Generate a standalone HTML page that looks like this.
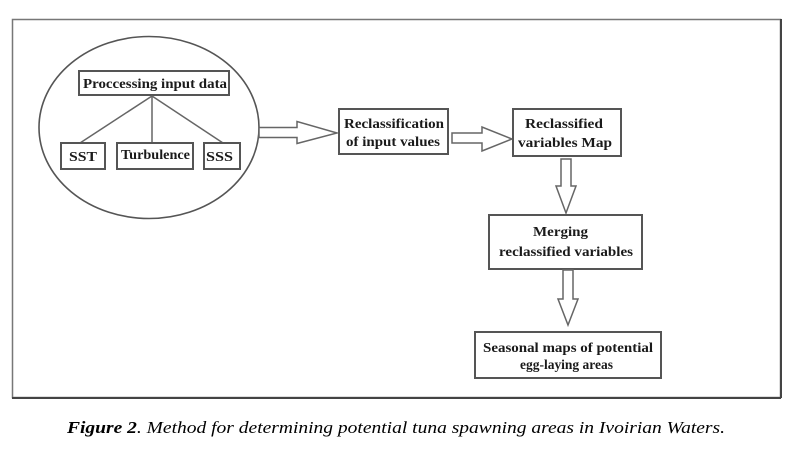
<!DOCTYPE html>
<html>
<head>
<meta charset="utf-8">
<style>
  html,body{margin:0;padding:0;background:#fff;}
  body{width:789px;height:449px;overflow:hidden;}
  svg{display:block;}
  text{font-family:"Liberation Serif","Times New Roman",Times,serif;}
  .b{font-weight:bold;font-size:13.5px;fill:#1a1a1a;}
  .cap{font-style:italic;font-size:17px;fill:#000;}
</style>
</head>
<body>
<svg width="789" height="449" viewBox="0 0 789 449" xmlns="http://www.w3.org/2000/svg" font-family="Liberation Serif, Times New Roman, Times, serif">
  <!-- outer frame -->
  <rect x="12.5" y="19.5" width="768" height="378" fill="none" stroke="#777" stroke-width="1.5"/>
  <line x1="12" y1="398" x2="781" y2="398" stroke="#444" stroke-width="2"/>
  <line x1="781" y1="19" x2="781" y2="398" stroke="#444" stroke-width="2"/>

  <!-- ellipse -->
  <ellipse cx="149" cy="127.5" rx="110" ry="91" fill="none" stroke="#555" stroke-width="1.6"/>

  <!-- processing box -->
  <rect x="79" y="71" width="150" height="24" fill="#fff" stroke="#555" stroke-width="2"/>
  <text class="b" x="83" y="88" textLength="144" lengthAdjust="spacingAndGlyphs">Proccessing input data</text>

  <!-- tree lines -->
  <line x1="152" y1="96" x2="80" y2="143" stroke="#666" stroke-width="1.5"/>
  <line x1="152" y1="96" x2="152" y2="143" stroke="#666" stroke-width="1.5"/>
  <line x1="152" y1="96" x2="223" y2="143" stroke="#666" stroke-width="1.5"/>

  <!-- leaf boxes -->
  <rect x="61" y="143" width="44" height="26" fill="#fff" stroke="#555" stroke-width="2"/>
  <text class="b" x="69" y="161" textLength="28" lengthAdjust="spacingAndGlyphs">SST</text>
  <rect x="117" y="143" width="76" height="26" fill="#fff" stroke="#555" stroke-width="2"/>
  <text class="b" x="121" y="159" textLength="69" lengthAdjust="spacingAndGlyphs">Turbulence</text>
  <rect x="204" y="143" width="36" height="26" fill="#fff" stroke="#555" stroke-width="2"/>
  <text class="b" x="206" y="161" textLength="27" lengthAdjust="spacingAndGlyphs">SSS</text>

  <!-- arrow 1 (right) -->
  <polygon points="259,127.5 297,127.5 297,121.5 337,133 297,143.5 297,137.5 259,137.5" fill="#fff" stroke="#666" stroke-width="1.5" stroke-linejoin="miter"/>

  <!-- Reclassification box -->
  <rect x="339" y="109" width="109" height="45" fill="#fff" stroke="#555" stroke-width="2"/>
  <text class="b" x="344" y="128" textLength="100" lengthAdjust="spacingAndGlyphs">Reclassification</text>
  <text class="b" x="346" y="146" textLength="94" lengthAdjust="spacingAndGlyphs">of input values</text>

  <!-- arrow 2 (right) -->
  <polygon points="452,133 482,133 482,127 512,139 482,151 482,143 452,143" fill="#fff" stroke="#666" stroke-width="1.5"/>

  <!-- Reclassified variables Map box -->
  <rect x="513" y="109" width="108" height="47" fill="#fff" stroke="#555" stroke-width="2"/>
  <text class="b" x="525" y="128" textLength="78" lengthAdjust="spacingAndGlyphs">Reclassified</text>
  <text class="b" x="518" y="147" textLength="94" lengthAdjust="spacingAndGlyphs">variables Map</text>

  <!-- down arrow 1 -->
  <polygon points="561,159 571,159 571,186 576,186 566,213 556,186 561,186" fill="#fff" stroke="#666" stroke-width="1.5"/>

  <!-- Merging box -->
  <rect x="489" y="215" width="153" height="54" fill="#fff" stroke="#555" stroke-width="2"/>
  <text class="b" x="533" y="236" textLength="55" lengthAdjust="spacingAndGlyphs">Merging</text>
  <text class="b" x="499" y="256" textLength="134" lengthAdjust="spacingAndGlyphs">reclassified variables</text>

  <!-- down arrow 2 -->
  <polygon points="563,270 573,270 573,299 578,299 568,325 558,299 563,299" fill="#fff" stroke="#666" stroke-width="1.5"/>

  <!-- Seasonal box -->
  <rect x="475" y="332" width="186" height="46" fill="#fff" stroke="#555" stroke-width="2"/>
  <text class="b" x="483" y="352" textLength="170" lengthAdjust="spacingAndGlyphs">Seasonal maps of potential</text>
  <text class="b" x="520" y="369" textLength="93" lengthAdjust="spacingAndGlyphs">egg-laying areas</text>

  <!-- caption -->
  <text class="cap" x="67" y="433" textLength="658" lengthAdjust="spacingAndGlyphs"><tspan font-weight="bold">Figure 2</tspan>. Method for determining potential tuna spawning areas in Ivoirian Waters.</text>
</svg>
</body>
</html>
